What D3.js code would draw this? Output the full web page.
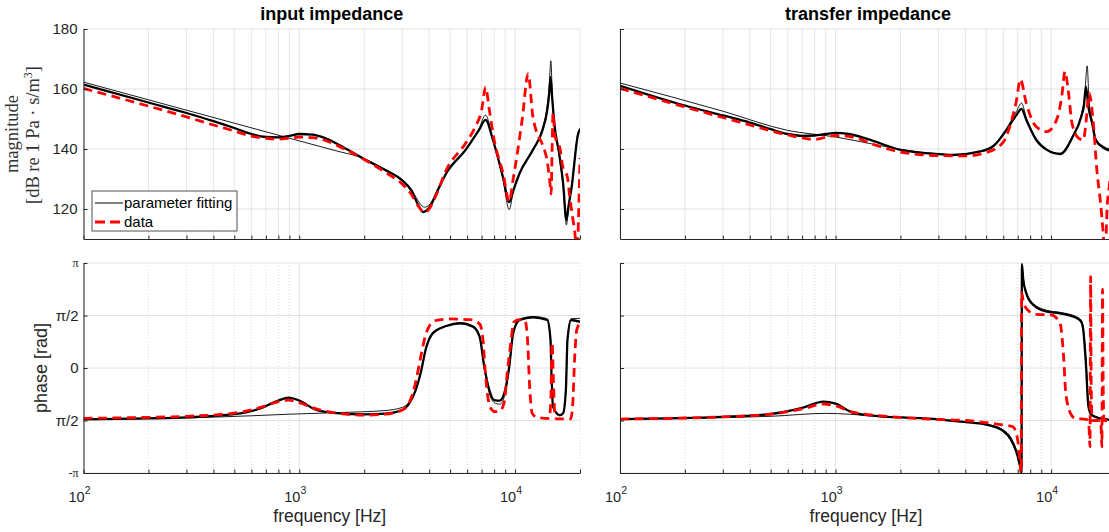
<!DOCTYPE html>
<html>
<head>
<meta charset="utf-8">
<script src="https://cdn.jsdelivr.net/npm/d3@7"></script>
<style>
  body { margin: 0; background: #fff; }
  svg { display: block; }
  text { font-family: "Liberation Sans", Arial, Helvetica, sans-serif; fill: #262626; }
</style>
</head>
<body>
<svg id="chart" width="1109" height="532"></svg>
<script>
// ---- data (frequency in Hz, magnitude in dB, phase in units of pi) ----

// input impedance, magnitude
const magInFit = [[100,161.5],[200,155.5],[300,152.0],[400,149.3],[500,147.0],[600,145.0],[700,144.0],[800,143.9],[900,144.4],[1000,145.0],[1150,144.8],[1300,143.8],[1600,140.6],[2000,136.6],[2500,133.0],[3000,129.5],[3300,126.2],[3550,121.5],[3750,119.0],[4030,120.8],[4400,126.5],[4800,131.9],[5900,139.7],[6800,146.3],[7300,149.7],[7900,143.0],[8800,130.5],[9400,122.3],[9800,126.0],[10500,131.9],[12100,139.7],[13400,146.3],[14100,153.0],[14400,158.5],[14600,164.0],[14900,156.0],[15200,148.6],[16000,138.6],[16700,128.6],[17300,116.3],[17700,121.0],[18300,127.4],[19600,145.0],[20000,146.5]];
const magInThin = [[100,162.3],[200,156.4],[500,148.6],[1000,142.7],[1500,139.3],[2000,136.8],[2500,133.2],[3000,129.8],[3300,126.8],[3550,122.8],[3800,120.6],[4030,121.6],[4400,126.8],[4800,131.9],[5900,139.7],[6800,146.6],[7300,151.3],[7900,143.0],[8800,129.7],[9400,119.8],[9800,125.5],[10500,131.9],[12100,139.7],[13400,146.8],[14100,154.5],[14400,161.0],[14650,169.4],[14900,157.0],[15200,148.6],[16000,138.0],[16700,127.5],[17300,114.7],[17700,120.5],[18300,127.8],[19600,145.5],[20000,147.0]];
const magInData = [[100,160.2],[200,154.3],[300,150.7],[400,148.0],[500,146.0],[600,144.3],[700,143.6],[800,143.3],[900,143.6],[1000,144.0],[1150,143.8],[1300,143.0],[1600,140.2],[2000,136.5],[2500,132.3],[3000,128.3],[3300,125.0],[3600,120.5],[3800,118.8],[4000,120.0],[4300,124.5],[4800,133.0],[5900,141.9],[6500,147.0],[7000,153.0],[7300,160.6],[7600,153.0],[8000,143.0],[8800,131.9],[9400,122.5],[9800,130.0],[10300,139.7],[10800,150.0],[11500,165.0],[12100,150.8],[12500,146.3],[13400,141.5],[14100,135.8],[14500,129.0],[14700,125.0],[14850,140.0],[15000,152.0],[15300,144.5],[16200,139.7],[16600,134.5],[17500,130.5],[17900,124.5],[18500,117.0],[19000,111.0],[19350,103.0],[19700,118.0],[20000,137.0]];

// input impedance, phase
const phaseInFit = [[100,-0.489],[200,-0.48],[300,-0.47],[500,-0.44],[650,-0.39],[800,-0.31],[890,-0.283],[1000,-0.31],[1200,-0.40],[1500,-0.43],[2000,-0.442],[2500,-0.435],[3000,-0.40],[3250,-0.33],[3450,-0.22],[3650,-0.05],[3870,0.19],[4150,0.33],[4800,0.40],[5560,0.426],[6380,0.394],[6850,0.298],[7200,0.013],[7600,-0.21],[8000,-0.305],[8500,-0.31],[9000,-0.21],[9400,0.013],[9800,0.33],[10500,0.457],[12100,0.483],[14100,0.457],[14600,0.267],[14750,-0.05],[15000,-0.368],[16100,-0.448],[16700,-0.43],[17200,-0.21],[17500,0.267],[18200,0.457],[20000,0.44]];
const phaseInThin = [[100,-0.489],[300,-0.475],[600,-0.455],[900,-0.44],[1500,-0.425],[2500,-0.405],[3000,-0.375],[3250,-0.32],[3450,-0.22],[3650,-0.05],[3870,0.19],[4150,0.33],[4800,0.40],[5560,0.43],[6380,0.40],[6850,0.30],[7200,0.0],[7600,-0.24],[8000,-0.33],[8500,-0.345],[9000,-0.24],[9400,0.0],[9800,0.34],[10500,0.465],[12100,0.49],[14100,0.47],[14600,0.28],[14750,-0.05],[15000,-0.38],[16100,-0.455],[16700,-0.44],[17200,-0.22],[17500,0.28],[18200,0.47],[20000,0.473]];
const phaseInData = [[100,-0.479],[200,-0.47],[300,-0.46],[500,-0.43],[650,-0.38],[800,-0.32],[890,-0.305],[1000,-0.33],[1200,-0.39],[1500,-0.43],[2000,-0.448],[2500,-0.44],[3000,-0.40],[3250,-0.32],[3450,-0.15],[3650,0.1],[3870,0.33],[4250,0.45],[5000,0.467],[6200,0.46],[6850,0.42],[7100,0.27],[7250,0.01],[7450,-0.25],[7700,-0.38],[8100,-0.416],[8500,-0.41],[8900,-0.33],[9200,-0.05],[9500,0.2],[9900,0.44],[10500,0.46],[11100,0.455],[11400,0.3],[11700,-0.2],[12000,-0.43],[12600,-0.47],[14400,-0.48],[14650,-0.3],[14850,0.24],[15050,-0.1],[15300,-0.45],[15600,-0.485],[18100,-0.485],[18500,-0.35],[18900,0.1],[19300,0.36],[20000,0.426]];

// transfer impedance, magnitude
const magTrFit = [[100,161.1],[200,154.5],[300,151.2],[400,148.8],[500,146.6],[600,145.0],[700,144.4],[800,144.5],[900,145.0],[1000,145.4],[1150,145.0],[1400,143.4],[2000,139.7],[3000,138.3],[3500,138.0],[4640,139.1],[5400,141.0],[6200,146.3],[6900,151.3],[7290,153.4],[7670,149.7],[8540,143.0],[9560,139.7],[11000,138.3],[12600,144.1],[13800,150.8],[14200,154.5],[14500,160.8],[14900,154.0],[15500,148.6],[16100,143.0],[17600,140.3],[18300,139.7],[20000,139.3]];
const magTrThin = [[100,162.0],[300,152.6],[600,146.2],[1000,144.0],[1500,141.6],[2000,139.9],[3000,138.4],[3500,138.1],[4640,139.2],[5400,141.2],[6200,146.8],[6900,152.5],[7290,155.3],[7670,150.5],[8540,143.2],[9560,139.9],[11000,138.6],[12600,144.5],[13800,151.5],[14300,157.5],[14700,167.7],[15000,156.0],[15500,149.5],[16100,143.5],[17600,140.8],[18300,140.2],[20000,139.8]];
const magTrData = [[100,160.2],[200,154.0],[300,150.5],[400,148.0],[600,144.7],[800,143.2],[1000,144.5],[1200,144.0],[1500,141.5],[2000,139.0],[3000,137.8],[4000,137.7],[5000,138.8],[6000,142.3],[6500,148.6],[6900,156.0],[7200,163.2],[7670,155.2],[8540,147.4],[9560,145.8],[10600,149.7],[11200,157.4],[11600,165.8],[12000,159.7],[12500,148.6],[13400,143.6],[14100,143.0],[14500,148.5],[14900,157.4],[15000,158.6],[15700,148.6],[16300,133.0],[16900,123.0],[17400,113.0],[17800,104.0],[18200,120.8],[18600,127.4],[20000,145.0]];

// transfer impedance, phase
const phaseTrFit = [[100,-0.486],[300,-0.465],[500,-0.438],[700,-0.38],[880,-0.321],[1000,-0.34],[1200,-0.425],[1600,-0.46],[2000,-0.47],[3000,-0.489],[3780,-0.511],[5000,-0.54],[6000,-0.6],[6500,-0.68],[6900,-0.8],[7150,-0.92],[7290,-1.0],[7320,0.99],[7420,0.85],[7670,0.711],[8270,0.6],[9560,0.536],[11000,0.521],[13200,0.473],[13800,0.44],[14100,0.362],[14500,0.044],[14900,-0.368],[15400,-0.448],[16900,-0.479],[20000,-0.497]];
const phaseTrThin = [[100,-0.486],[500,-0.46],[900,-0.432],[1500,-0.455],[2000,-0.468],[3000,-0.487],[3780,-0.508],[5000,-0.535],[6000,-0.59],[6500,-0.66],[6900,-0.78],[7150,-0.9],[7290,-0.99],[7320,0.98],[7420,0.86],[7670,0.73],[8270,0.615],[9560,0.55],[11000,0.53],[13200,0.485],[13800,0.455],[14100,0.38],[14550,0.044],[14950,-0.368],[15450,-0.45],[16900,-0.48],[20000,-0.497]];
const phaseTrData = [[100,-0.486],[300,-0.465],[500,-0.44],[700,-0.39],[880,-0.343],[1000,-0.36],[1200,-0.42],[2000,-0.47],[3000,-0.49],[4000,-0.5],[5000,-0.52],[6000,-0.543],[6650,-0.56],[7000,-0.686],[7200,-0.94],[7260,-1.0],[7300,0.72],[7450,0.62],[8000,0.53],[8500,0.51],[10000,0.505],[11000,0.426],[11400,0.14],[11700,-0.241],[12300,-0.432],[12900,-0.479],[14600,-0.49],[14950,-0.53],[15150,-0.75],[15250,0.87],[15350,-0.2],[15500,-0.5],[17000,-0.5],[17200,-0.75],[17320,0.75],[17450,-0.2],[17600,-0.5],[20000,-0.5]];

// ticks
const xMajor = [100, 1000, 10000];
const xMinor = [200,300,400,500,600,700,800,900,2000,3000,4000,5000,6000,7000,8000,9000,20000];
const xMajorExp = ['2', '3', '4'];
const magTicks = [120, 140, 160, 180];
const phaseTicks = [-1, -0.5, 0, 0.5, 1];
const phaseTickLabels = ['-π', 'π/2', '0', 'π/2', 'π'];
const legendLabels = ['parameter fitting', 'data'];

const svg = d3.select('#chart');
const gridCol = '#e2e2e2';
const axisCol = '#262626';

// panel layout
const cols = [{left: 83.5, right: 580}, {left: 620, right: 1116}];
const rows = [{top: 29, bottom: 239}, {top: 263, bottom: 473}];

function drawPanel(col, row, kind, fit, thin, data) {
  const c = cols[col], r = rows[row];
  const x = d3.scaleLog().domain([100, 20000]).range([c.left, c.right]);
  const y = kind === 'mag'
    ? d3.scaleLinear().domain([110, 180]).range([r.bottom, r.top])
    : d3.scaleLinear().domain([-1, 1]).range([r.bottom, r.top]);
  const yTicks = kind === 'mag' ? magTicks : phaseTicks;
  const g = svg.append('g');
  const clipId = 'clip' + col + row;
  svg.append('clipPath').attr('id', clipId)
    .append('rect').attr('x', c.left).attr('y', r.top)
    .attr('width', c.right - c.left).attr('height', r.bottom - r.top);

  // grid
  const grid = g.append('g');
  grid.selectAll('.gx').data(xMinor).join('line')
    .attr('x1', d => x(d)).attr('x2', d => x(d))
    .attr('y1', r.top).attr('y2', r.bottom)
    .attr('stroke', kind === 'mag' ? '#e6e6e6' : '#cfcfcf')
    .attr('stroke-width', kind === 'mag' ? 1 : 0.8)
    .attr('stroke-dasharray', kind === 'mag' ? null : '1,2');
  grid.selectAll('.gX').data(xMajor).join('line')
    .attr('x1', d => x(d)).attr('x2', d => x(d))
    .attr('y1', r.top).attr('y2', r.bottom)
    .attr('stroke', gridCol);
  grid.selectAll('.gy').data(yTicks).join('line')
    .attr('x1', c.left).attr('x2', c.right)
    .attr('y1', d => y(d)).attr('y2', d => y(d))
    .attr('stroke', gridCol);

  // curves
  const line = d3.line().x(d => x(d[0])).y(d => y(d[1])).curve(d3.curveMonotoneX);
  const curves = g.append('g').attr('clip-path', 'url(#' + clipId + ')');
  curves.append('path').datum(thin).attr('d', line)
    .attr('fill', 'none').attr('stroke', '#000').attr('stroke-width', 0.9);
  curves.append('path').datum(fit).attr('d', line)
    .attr('fill', 'none').attr('stroke', '#000').attr('stroke-width', 2.3)
    .attr('stroke-linejoin', 'round');
  curves.append('path').datum(data).attr('d', line)
    .attr('fill', 'none').attr('stroke', '#ff0000').attr('stroke-width', 2.8)
    .attr('stroke-dasharray', '9,5.5');

  // axes (ticks inward, box off)
  const ax = g.append('g').attr('transform', `translate(0,${r.bottom})`)
    .call(d3.axisBottom(x).tickValues(xMajor.concat(xMinor)).tickSize(-3.5).tickSizeOuter(0).tickFormat(''));
  const ay = g.append('g').attr('transform', `translate(${c.left},0)`)
    .call(d3.axisLeft(y).tickValues(yTicks).tickSize(-4).tickSizeOuter(0).tickFormat(''));
  [ax, ay].forEach(a => {
    a.attr('color', axisCol);
    a.select('.domain').attr('stroke-width', 1);
  });

  // y tick labels (left column only)
  if (col === 0) {
    if (kind === 'mag') {
      g.selectAll('.yl').data(magTicks).join('text')
        .attr('x', c.left - 6).attr('y', d => y(d)).attr('dy', '0.36em')
        .attr('text-anchor', 'end').attr('font-size', 15).text(d => d);
    } else {
      g.selectAll('.yl').data(phaseTicks).join('text')
        .attr('x', c.left - 5).attr('y', d => y(d))
        .attr('dy', d => Math.abs(d) === 1 ? '0.3em' : '0.36em')
        .attr('text-anchor', 'end')
        .style('font-family', d => Math.abs(d) === 1 ? '"Liberation Serif", "Times New Roman", serif' : null)
        .attr('font-size', d => Math.abs(d) === 1 ? 12 : 15)
        .text((d, i) => phaseTickLabels[i]);
    }
  }

  // x tick labels (bottom row only)
  if (row === 1) {
    const tl = g.selectAll('.xl').data(xMajor).join('text')
      .attr('x', d => x(d) - 4).attr('y', r.bottom + 29)
      .attr('text-anchor', 'middle').attr('font-size', 14.5);
    tl.append('tspan').text('10');
    tl.append('tspan').attr('dy', -8).attr('font-size', 10.5).text((d, i) => xMajorExp[i]);
    g.append('text').attr('x', (c.left + c.right) / 2 - 2).attr('y', 522)
      .attr('text-anchor', 'middle').attr('font-size', 17.5).text('frequency [Hz]');
  }
  return {x, y};
}

drawPanel(0, 0, 'mag', magInFit, magInThin, magInData);
drawPanel(1, 0, 'mag', magTrFit, magTrThin, magTrData);
drawPanel(0, 1, 'phase', phaseInFit, phaseInThin, phaseInData);
drawPanel(1, 1, 'phase', phaseTrFit, phaseTrThin, phaseTrData);

// titles
svg.append('text').attr('x', (cols[0].left + cols[0].right) / 2).attr('y', 20)
  .attr('text-anchor', 'middle').attr('font-size', 18).attr('font-weight', 'bold')
  .style('fill', '#000').text('input impedance');
svg.append('text').attr('x', (cols[1].left + cols[1].right) / 2).attr('y', 20)
  .attr('text-anchor', 'middle').attr('font-size', 18).attr('font-weight', 'bold')
  .style('fill', '#000').text('transfer impedance');

// y labels
const serif = '"Liberation Serif", "Times New Roman", serif';
svg.append('text').attr('transform', 'translate(18,134) rotate(-90)')
  .attr('text-anchor', 'middle').attr('font-size', 18.5).style('font-family', serif)
  .style('fill', '#333').text('magnitude');
const ylab2 = svg.append('text').attr('transform', 'translate(39,135) rotate(-90)')
  .attr('text-anchor', 'middle').attr('font-size', 18.5).style('font-family', serif)
  .style('fill', '#333');
ylab2.append('tspan').text('[dB re 1 Pa · s/m');
ylab2.append('tspan').attr('dy', -7).attr('font-size', 12).text('3');
ylab2.append('tspan').attr('dy', 7).text(']');
svg.append('text').attr('transform', 'translate(47,368) rotate(-90)')
  .attr('text-anchor', 'middle').attr('font-size', 18).text('phase [rad]');

// legend
const lg = svg.append('g');
lg.append('rect').attr('x', 92).attr('y', 191).attr('width', 145).attr('height', 40)
  .attr('fill', '#fff').attr('stroke', '#262626').attr('stroke-width', 0.8);
const legendStyles = [
  {stroke: '#000', width: 1, dash: null},
  {stroke: '#ff0000', width: 2.8, dash: '10,5'}
];
legendLabels.forEach((lab, i) => {
  const yy = 203 + i * 19;
  lg.append('line').attr('x1', 95).attr('x2', 123).attr('y1', yy).attr('y2', yy)
    .attr('stroke', legendStyles[i].stroke).attr('stroke-width', legendStyles[i].width)
    .attr('stroke-dasharray', legendStyles[i].dash);
  lg.append('text').attr('x', 124).attr('y', yy).attr('dy', '0.36em')
    .attr('font-size', 15).style('fill', '#000').text(lab);
});
</script>
</body>
</html>
